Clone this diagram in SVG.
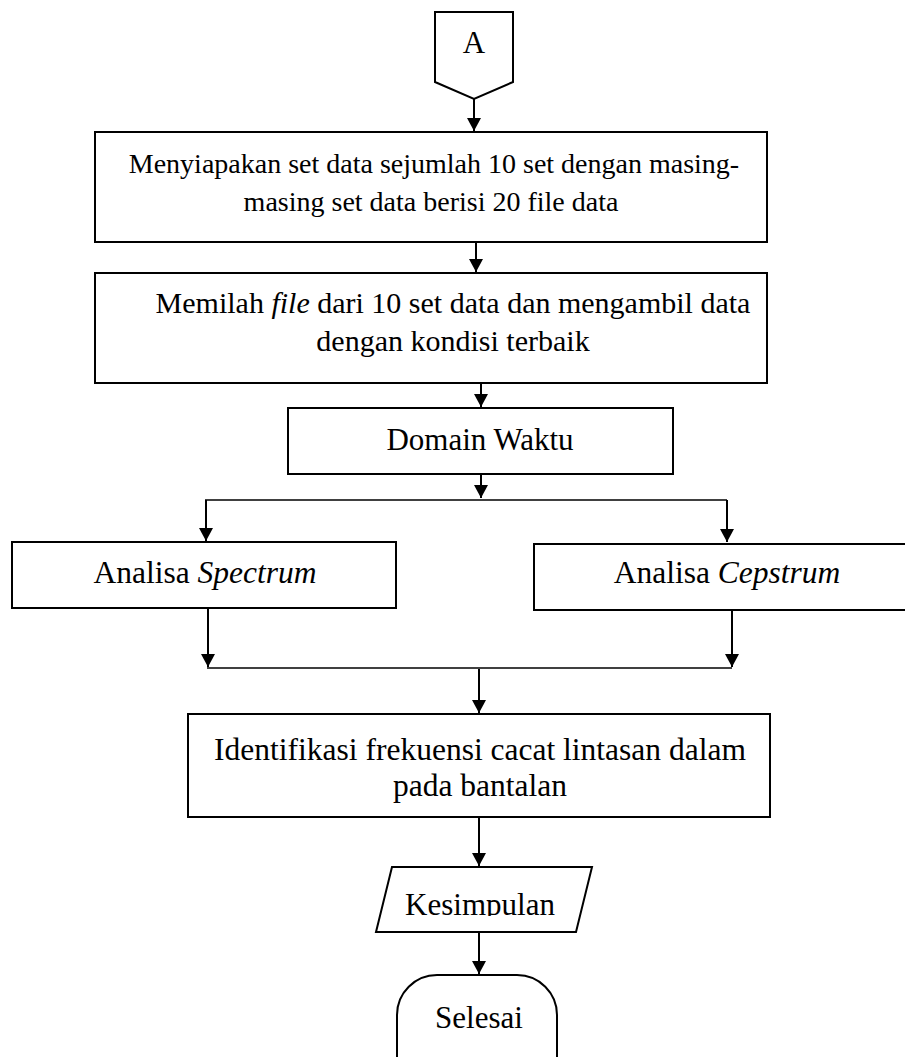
<svg xmlns="http://www.w3.org/2000/svg" width="905" height="1057" viewBox="0 0 905 1057">
<style>
.s{fill:#fff;stroke:#000;stroke-width:2}
.c{fill:none;stroke:#000;stroke-width:2}
.t{stroke-width:1.5}
text{font-family:"Liberation Serif","Times New Roman",serif;fill:#000;text-anchor:middle}
</style>
<defs>
<marker id="arr" viewBox="0 0 14 15" refX="14" refY="7.5" markerWidth="15" markerHeight="14" markerUnits="userSpaceOnUse" orient="auto">
<path d="M0,0 L14,7.5 L0,15 Z" fill="#000"/>
</marker>
<clipPath id="kc"><rect x="300" y="860" width="320" height="56"/></clipPath>
</defs>
<g id="connectors">
<line class="c" x1="474" y1="99" x2="474" y2="131" marker-end="url(#arr)"/>
<line class="c" x1="476" y1="242" x2="476" y2="272" marker-end="url(#arr)"/>
<line class="c" x1="481" y1="383" x2="481" y2="407" marker-end="url(#arr)"/>
<line class="c" x1="481" y1="474" x2="481" y2="498" marker-end="url(#arr)"/>
<path class="c t" d="M205,500 H727"/>
<line class="c" x1="206" y1="500" x2="206" y2="541" marker-end="url(#arr)"/>
<line class="c" x1="727" y1="500" x2="727" y2="542" marker-end="url(#arr)"/>
<line class="c" x1="208" y1="608" x2="208" y2="667" marker-end="url(#arr)"/>
<line class="c" x1="732" y1="610" x2="732" y2="667" marker-end="url(#arr)"/>
<path class="c t" d="M207,668 H732"/>
<line class="c" x1="479" y1="669" x2="479" y2="713" marker-end="url(#arr)"/>
<line class="c" x1="479" y1="817" x2="479" y2="866" marker-end="url(#arr)"/>
<line class="c" x1="479" y1="932" x2="479" y2="974" marker-end="url(#arr)"/>
</g>
<g id="nodeA">
<path class="s" d="M435,12 H513 V82 L474,99 L435,82 Z"/>
<text x="474" y="53" font-size="31">A</text>
</g>
<g id="node1">
<rect class="s" x="95" y="132" width="672" height="110"/>
<text x="434" y="173" font-size="28">Menyiapakan set data sejumlah 10 set dengan masing-</text>
<text x="431" y="211" font-size="28">masing set data berisi 20 file data</text>
</g>
<g id="node2">
<rect class="s" x="95" y="273" width="672" height="110"/>
<text x="453" y="313" font-size="30">Memilah <tspan font-style="italic">file</tspan> dari 10 set data dan mengambil data</text>
<text x="453" y="351" font-size="30">dengan kondisi terbaik</text>
</g>
<g id="node3">
<rect class="s" x="288" y="408" width="385" height="66"/>
<text x="480" y="450" font-size="31">Domain Waktu</text>
</g>
<g id="node4">
<rect class="s" x="12" y="542" width="384" height="66"/>
<text x="205" y="583" font-size="31.5">Analisa <tspan font-style="italic">Spectrum</tspan></text>
</g>
<g id="node5">
<rect class="s" x="534" y="544" width="400" height="66"/>
<text x="727" y="583" font-size="31.5">Analisa <tspan font-style="italic">Cepstrum</tspan></text>
</g>
<g id="node6">
<rect class="s" x="188" y="714" width="582" height="103"/>
<text x="480" y="760" font-size="31.5">Identifikasi frekuensi cacat lintasan dalam</text>
<text x="480" y="796" font-size="31.5">pada bantalan</text>
</g>
<g id="node7">
<path class="s" d="M392,867 H592 L576,932 H376 Z"/>
<text x="480" y="915" font-size="31" clip-path="url(#kc)">Kesimpulan</text>
</g>
<g id="node8">
<rect class="s" x="397" y="975" width="160" height="130" rx="40" ry="40"/>
<text x="479" y="1028" font-size="31">Selesai</text>
</g>
</svg>
